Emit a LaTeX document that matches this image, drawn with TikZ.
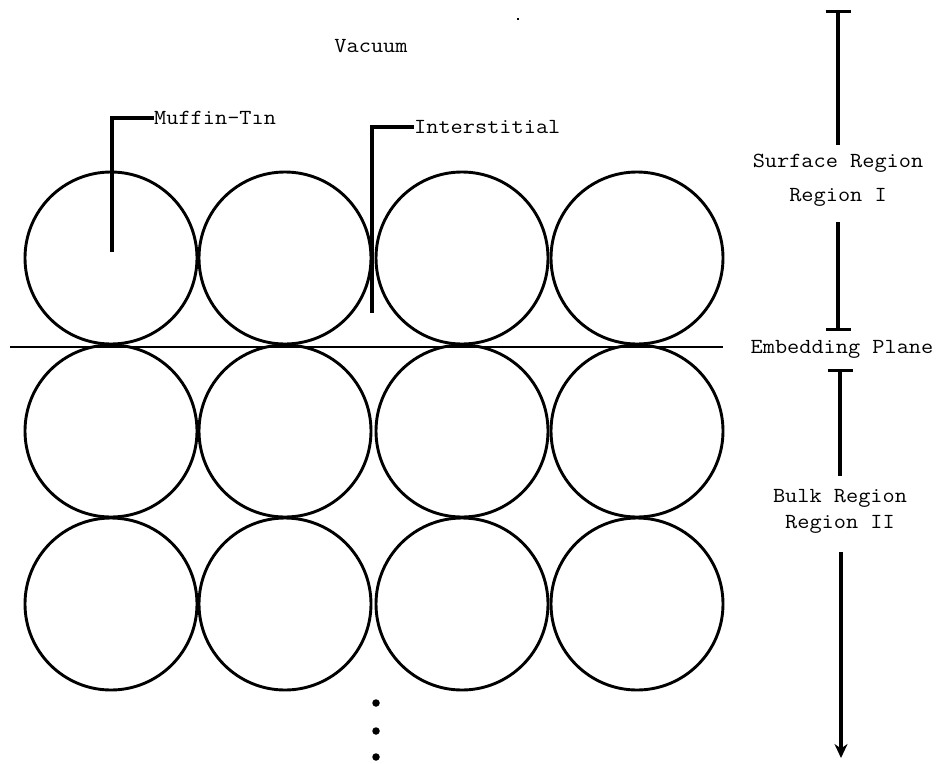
\documentclass[tikz,border=0pt]{standalone}
\usepackage{fontspec}
\setmonofont[FakeStretch=1.1]{Latin Modern Mono}
\usetikzlibrary{arrows.meta}
\begin{document}
\begin{tikzpicture}[x=1pt,y=-1pt,
  atom/.style={draw,circle,minimum size=172pt,inner sep=0pt,line width=2.9pt},
  lbl/.style={font=\ttfamily\fontsize{21.5}{26}\selectfont,inner sep=0pt},
  lead/.style={line width=3.6pt},
  rbar/.style={line width=3.6pt},
  dotm/.style={fill,circle,minimum size=7.5pt,inner sep=0pt}]
\useasboundingbox (0,0) rectangle (941,763);
% circles
\foreach \c/\x in {1/111,2/285,3/462,4/637}{
  \node[atom] (r1c\c) at (\x,258) {};
  \node[atom] (r2c\c) at (\x,431) {};
  \node[atom] (r3c\c) at (\x,604) {};
}
% embedding plane line
\coordinate (pl) at (10,347);
\coordinate (pr) at (723,347);
\draw[line width=2.9pt] (pl) -- (pr);
% labels
\node[lbl] (vac) at (371,46) {Vacuum};
\node[lbl,anchor=west] (mt) at (154,118) {Muffin-T\i n};
\node[lbl,anchor=west] (it) at (414,127) {Interstitial};
\coordinate (mts) at (112,252);
\coordinate (its) at (372,313);
\draw[lead] (mts) |- (mt.west);
\draw[lead] (its) |- (it.west);
% right side
\node[lbl,align=center] (surf) at (838,180) {Surface Region\\[8pt]Region I};
\node[lbl] (emb) at (842,349) {Embedding Plane};
\node[lbl,align=center] (bulk) at (840,511) {Bulk Region\\[0pt]Region II};
\coordinate (t0) at (838,10);
\coordinate (t1) at (838,145);
\coordinate (t2) at (838,222);
\coordinate (t3) at (838,331);
\coordinate (b0) at (840,369);
\coordinate (b1) at (840,476);
\coordinate (b2) at (841,552);
\coordinate (b3) at (841,758);
\draw[rbar,{Bar[width=25pt,line width=3.2pt]}-] (t0) -- (t1);
\draw[rbar,-{Bar[width=25pt,line width=3.2pt]}] (t2) -- (t3);
\draw[rbar,{Bar[width=25pt,line width=3.2pt]}-] (b0) -- (b1);
\draw[rbar,-{Stealth[length=14pt,width=13pt]}] (b2) -- (b3);
% continuation dots
\node[dotm] (d1) at (376,703) {};
\node[dotm] (d2) at (376,731) {};
\node[dotm] (d3) at (376,757) {};
\node[fill,minimum size=2.5pt,inner sep=0pt] (sp) at (518,19) {};
\end{tikzpicture}
\end{document}
